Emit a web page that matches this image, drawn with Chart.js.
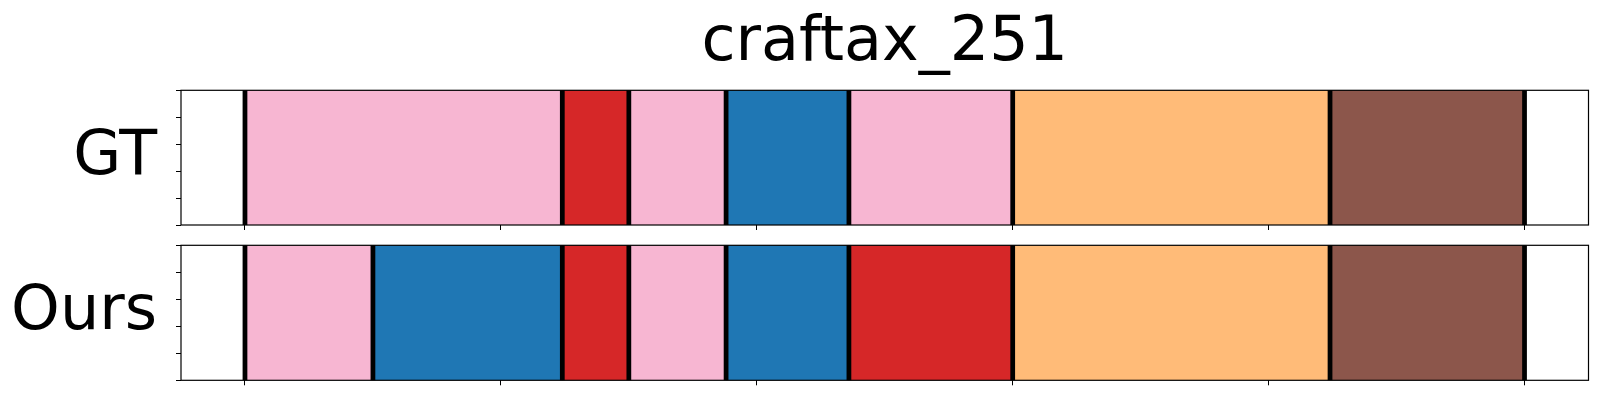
<!DOCTYPE html>
<html>
<head>
<meta charset="utf-8">
<script src="https://cdn.jsdelivr.net/npm/chart.js@4.4.1/dist/chart.umd.min.js"></script>
<style>
    body { margin: 0; background: #fff; }
    #wrap { position: relative; width: 1600px; height: 400px; }
    .panel { position: absolute; left: 0; width: 1600px; }
</style>
</head>
<body>
<div id="wrap">
    <div class="panel" style="top:0;height:240px"><canvas id="gtChart"></canvas></div>
    <div class="panel" style="top:240px;height:160px"><canvas id="oursChart"></canvas></div>
</div>
<script>
const chartTitle = 'craftax_251';
const xTicks = [0, 50, 100, 150, 200, 250];
const yTickVals = [0, 0.25, 0.5, 0.75, 1];
const xMin = -12.5;
const xMax = 262.5;

const classColors = {
    pink: '#f7b6d2',
    red: '#d62728',
    blue: '#1f77b4',
    orange: '#ffbb78',
    brown: '#8c564b'
};

// segment boundaries (frame index) and the class of each segment
const gtEdges = [0, 62, 75, 94, 118, 150, 212, 250];
const gtClasses = ['pink', 'red', 'pink', 'blue', 'pink', 'orange', 'brown'];
const oursEdges = [0, 25, 62, 75, 94, 118, 150, 212, 250];
const oursClasses = ['pink', 'blue', 'red', 'pink', 'blue', 'red', 'orange', 'brown'];

const edgeHalf = 0.4;
const FONT = 'DejaVu Sans';
const FONT_SIZE = 62;

// black frame round the plot area
const framePlugin = {
    id: 'frame',
    afterDraw(chart) {
        const { ctx, chartArea: a } = chart;
        ctx.save();
        ctx.strokeStyle = '#000';
        ctx.lineWidth = 1.2;
        ctx.strokeRect(a.left, a.top, a.right - a.left, a.bottom - a.top);
        ctx.restore();
    }
};

function makeChart(id, name, edges, classes, withTitle, padding) {
    const ctx = document.getElementById(id).getContext('2d');
    return new Chart(ctx, {
        type: 'bar',
        data: {
            labels: [name],
            datasets: [
                {
                    label: 'boundaries',
                    data: edges.map(b => ({ x: [b - edgeHalf, b + edgeHalf], y: name })),
                    backgroundColor: '#000',
                    order: 0
                },
                {
                    label: 'segments',
                    data: edges.slice(0, -1).map((s, i) => ({ x: [s, edges[i + 1]], y: name })),
                    backgroundColor: classes.map(c => classColors[c]),
                    order: 1
                }
            ]
        },
        options: {
            indexAxis: 'y',
            responsive: true,
            maintainAspectRatio: false,
            animation: false,
            devicePixelRatio: 1,
            grouped: false,
            barPercentage: 1,
            categoryPercentage: 1,
            borderWidth: 0,
            layout: { padding: padding },
            plugins: {
                legend: { display: false },
                tooltip: { enabled: false },
                title: {
                    display: withTitle,
                    text: chartTitle,
                    fullSize: false,
                    color: '#000',
                    font: { family: FONT, size: FONT_SIZE, weight: 'normal' },
                    padding: { top: 6.8, bottom: 9.1 }
                }
            },
            scales: {
                x: {
                    type: 'linear',
                    min: xMin,
                    max: xMax,
                    afterBuildTicks: s => { s.ticks = xTicks.map(v => ({ value: v })); },
                    ticks: { display: false },
                    grid: { drawOnChartArea: false, drawTicks: true, tickLength: 5, color: '#000', lineWidth: 1 },
                    border: { display: false },
                    afterFit: s => { s.height = 10; s.paddingLeft = 0; s.paddingRight = 0; }
                },
                y: {
                    type: 'category',
                    position: 'left',
                    weight: 1,
                    grid: { display: false, drawTicks: false },
                    border: { display: false },
                    ticks: { color: '#000', font: { family: FONT, size: FONT_SIZE }, padding: 14 },
                    afterFit: s => { s.width = 171; s.paddingTop = 0; s.paddingBottom = 0; }
                },
                yTicks: {
                    type: 'linear',
                    position: 'left',
                    weight: 0,
                    min: 0,
                    max: 1,
                    afterBuildTicks: s => { s.ticks = yTickVals.map(v => ({ value: v })); },
                    ticks: { display: false },
                    grid: { drawOnChartArea: false, drawTicks: true, tickLength: 5, color: '#000', lineWidth: 1 },
                    border: { display: false },
                    afterFit: s => { s.width = 10; s.paddingTop = 0; s.paddingBottom = 0; }
                }
            }
        },
        plugins: [framePlugin]
    });
}

makeChart('gtChart', 'GT', gtEdges, gtClasses, true, { left: 0, right: 11.5, top: 0, bottom: 5 });
makeChart('oursChart', 'Ours', oursEdges, oursClasses, false, { left: 0, right: 11.5, top: 5.3, bottom: 9.7 });
</script>
</body>
</html>
